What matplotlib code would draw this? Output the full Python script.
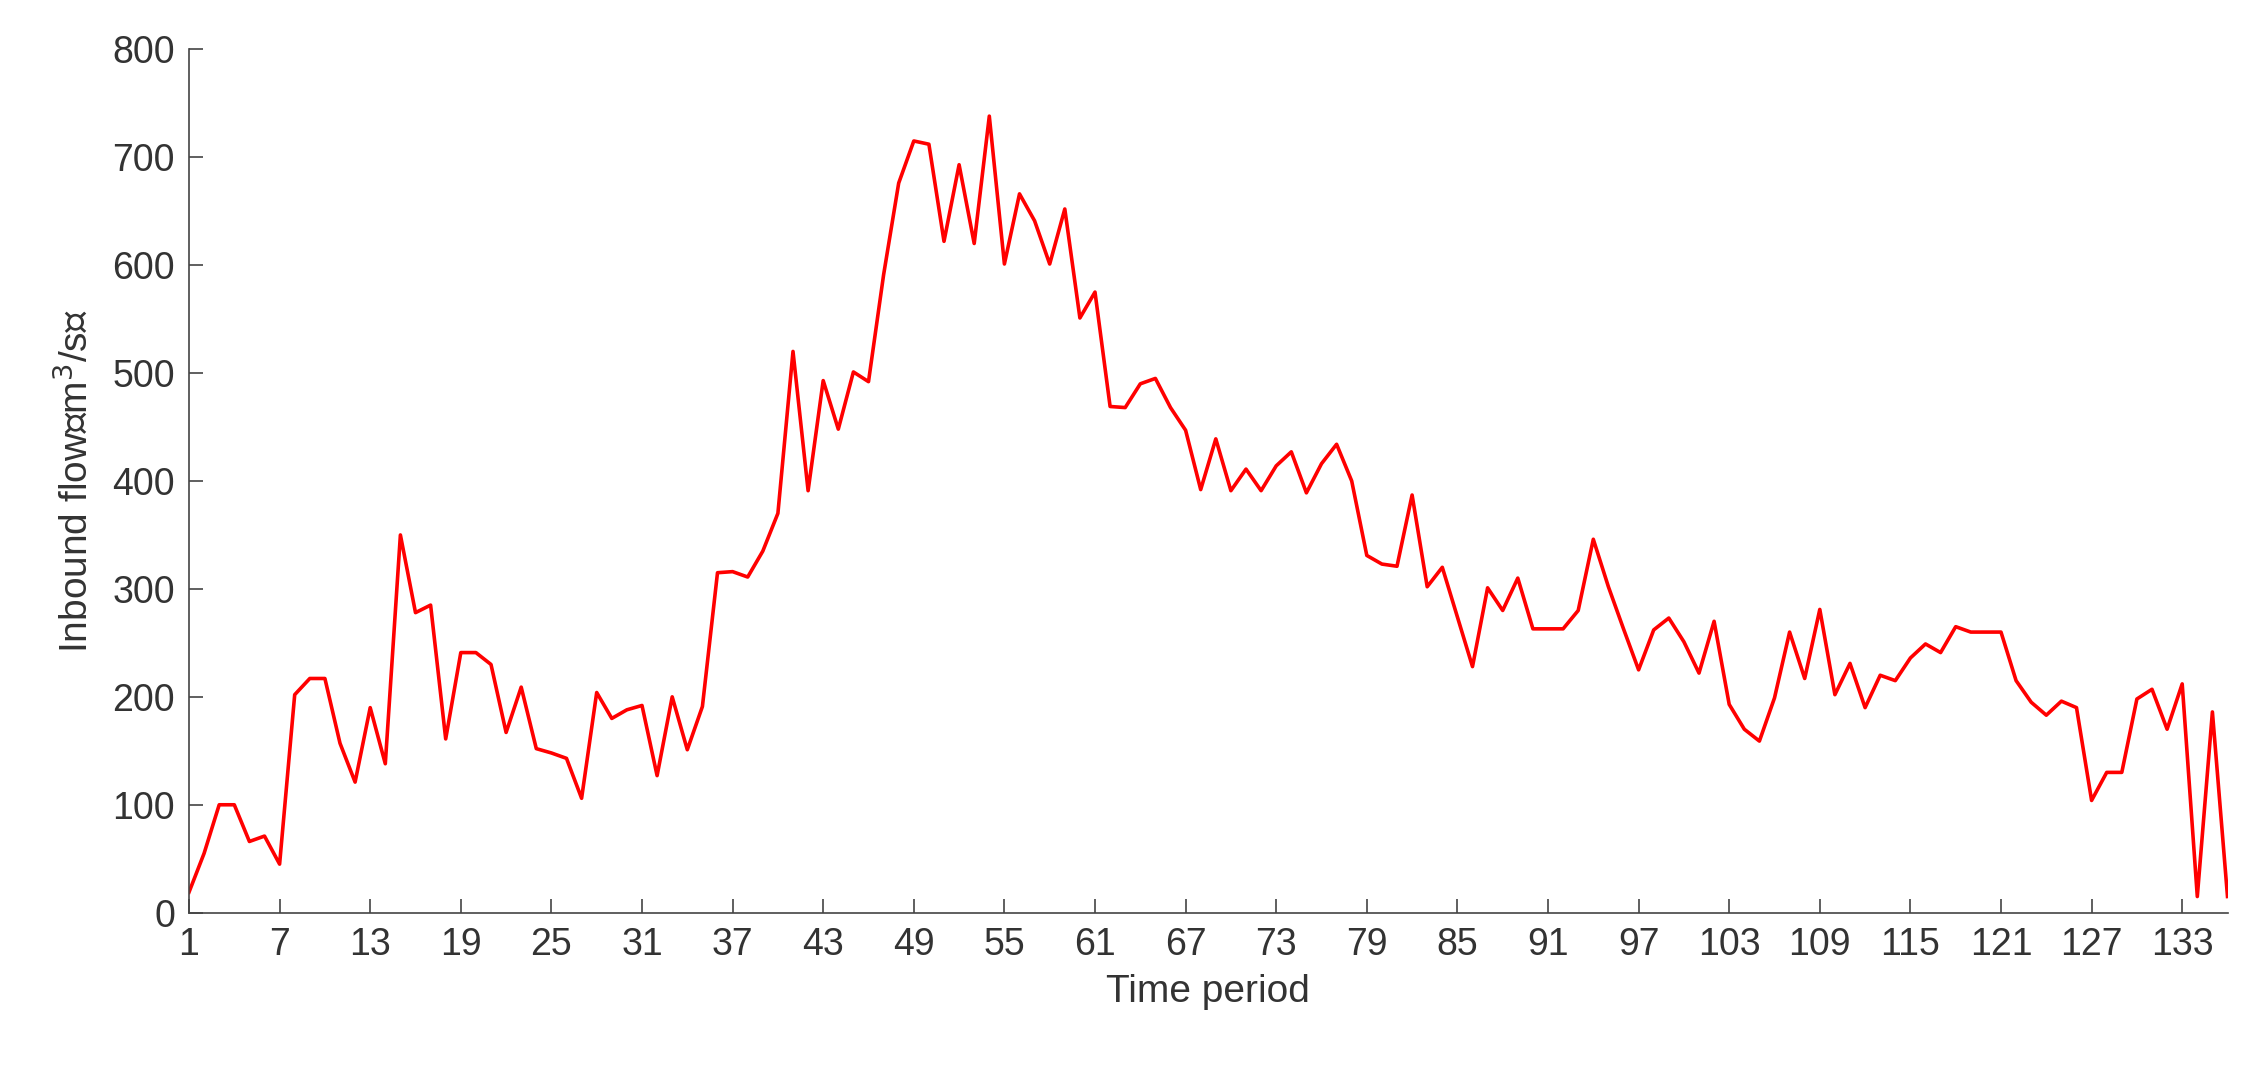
import matplotlib
matplotlib.use("Agg")
import matplotlib.pyplot as plt

periods = list(range(1, 137))
flow = [19, 55, 100, 100, 66, 71, 45, 202, 217, 217, 157, 121, 190, 138, 350, 278, 285, 161, 241, 241,
        230, 167, 209, 152, 148, 143, 106, 204, 180, 188, 192, 127, 200, 151, 191, 315, 316, 311, 335, 370,
        520, 391, 493, 448, 501, 492, 591, 676, 715, 712, 622, 693, 620, 738, 601, 666, 641, 601, 652, 551,
        575, 469, 468, 490, 495, 468, 447, 392, 439, 391, 411, 391, 414, 427, 389, 416, 434, 400, 331, 323,
        321, 387, 302, 320, 274, 228, 301, 280, 310, 263, 263, 263, 280, 346, 302, 263, 225, 262, 273, 251,
        222, 270, 193, 170, 159, 199, 260, 217, 281, 202, 231, 190, 220, 215, 236, 249, 241, 265, 260, 260,
        260, 215, 195, 183, 196, 190, 104, 130, 130, 198, 207, 170, 212, 15, 186, 15]
xticks = list(range(1, 134, 6))
yticks = list(range(0, 801, 100))

plt.rcParams['font.family'] = ['Liberation Sans', 'Noto Sans CJK SC', 'DejaVu Sans']
fig = plt.figure(figsize=(22.5, 10.7), dpi=100)
ax = fig.add_axes([0.084, 0.147, 0.906, 0.807])
ax.plot(periods, flow, color='#ff0000', lw=2.6)
ax.set_xlim(1, 136)
ax.set_ylim(0, 800)
ax.set_xticks(xticks)
ax.set_yticks(yticks)
for s in ['top', 'right']:
    ax.spines[s].set_visible(False)
for s in ['left', 'bottom']:
    ax.spines[s].set_color('#444444')
    ax.spines[s].set_linewidth(1.2)
ax.tick_params(direction='in', length=10, width=1.2, colors='#444444', labelsize=27, labelcolor='#333333', pad=10)
ax.set_xlabel('Time period', fontsize=28, color='#333333', labelpad=8)
ax.set_ylabel('Inbound flow（m$^3$/s）', fontsize=28, color='#333333', labelpad=12)
fig.savefig('out.png', dpi=100)
